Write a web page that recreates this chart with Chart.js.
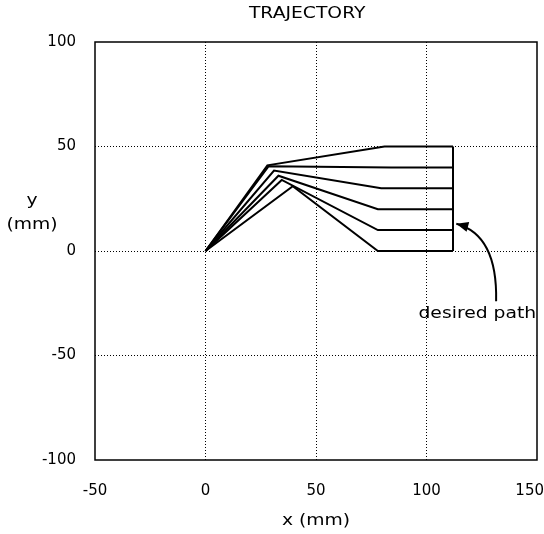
<!DOCTYPE html>
<html>
<head>
<meta charset="utf-8">
<script src="https://cdn.jsdelivr.net/npm/chart.js@4/dist/chart.umd.min.js"></script>
<style>
  html, body { margin: 0; padding: 0; background: #fff; }
</style>
</head>
<body>
<canvas id="trajChart" width="544" height="534"></canvas>
<script>
// trajectories, one array per path (x and y in mm)
const pathX = [
  [0, 28, 81, 112],
  [0, 28.5, 84, 112],
  [0, 31, 79.5, 112],
  [0, 33, 78, 112],
  [0, 34.5, 78, 112],
  [0, 39.5, 78, 112]
];
const pathY = [
  [0, 41, 50, 50],
  [0, 40.5, 40, 40],
  [0, 38.5, 30, 30],
  [0, 36, 20, 20],
  [0, 34, 10, 10],
  [0, 31, 0, 0]
];
const desiredX = [112, 112];
const desiredY = [0, 50];

const xTicks = [-50, 0, 50, 100, 150];
const yTicks = [-100, -50, 0, 50, 100];

const FONT = "'DejaVu Sans', 'Liberation Sans', sans-serif";
const STRETCH = 1.25; // the printed lettering is wider than DejaVu

const toPoints = (xs, ys) => xs.map((x, i) => ({ x: x, y: ys[i] }));

const datasets = pathX.map((xs, i) => ({
  data: toPoints(xs, pathY[i]),
  showLine: true,
  borderColor: '#000',
  borderWidth: 2,
  pointRadius: 0,
  tension: 0
}));
datasets.push({
  data: toPoints(desiredX, desiredY),
  showLine: true,
  borderColor: '#000',
  borderWidth: 2,
  pointRadius: 0
});

function wideText(ctx, text, cx, cy) {
  ctx.save();
  ctx.translate(cx, cy);
  ctx.scale(STRETCH, 1);
  ctx.fillText(text, 0, 0);
  ctx.restore();
}

// frame, titles, y label, "desired path" note with its arrow
const decorations = {
  id: 'decorations',
  afterDraw(chart) {
    const { ctx, chartArea: a, scales: { x, y } } = chart;
    ctx.save();
    ctx.strokeStyle = '#000';
    ctx.lineWidth = 1.5;
    ctx.strokeRect(a.left, a.top, a.right - a.left, a.bottom - a.top);

    ctx.fillStyle = '#000';
    // last x tick label is pushed in so it stays on the page, as in the print
    ctx.font = '15px ' + FONT;
    ctx.textAlign = 'right';
    ctx.textBaseline = 'middle';
    ctx.fillText(String(xTicks[xTicks.length - 1]), chart.width, a.bottom + 31);

    ctx.textAlign = 'center';
    wideText(ctx, 'TRAJECTORY', x.getPixelForValue(46), a.top - 28);
    wideText(ctx, 'x (mm)', x.getPixelForValue(50), a.bottom + 61);
    wideText(ctx, 'y', a.left - 63, y.getPixelForValue(24));
    wideText(ctx, '(mm)', a.left - 63, y.getPixelForValue(12.5));
    wideText(ctx, 'desired path', x.getPixelForValue(123), y.getPixelForValue(-30));

    // curved arrow pointing at the desired path
    const hx = x.getPixelForValue(113.5), hy = y.getPixelForValue(13);
    const c1x = x.getPixelForValue(124), c1y = y.getPixelForValue(10);
    const c2x = x.getPixelForValue(132), c2y = y.getPixelForValue(0);
    const tx = x.getPixelForValue(131.5), ty = y.getPixelForValue(-24);
    ctx.lineWidth = 2;
    ctx.beginPath();
    ctx.moveTo(tx, ty);
    ctx.bezierCurveTo(c2x, c2y, c1x, c1y, hx, hy);
    ctx.stroke();
    const ang = Math.atan2(hy - c1y, hx - c1x);
    const len = 13, half = 0.4;
    ctx.beginPath();
    ctx.moveTo(hx, hy);
    ctx.lineTo(hx - len * Math.cos(ang - half), hy - len * Math.sin(ang - half));
    ctx.lineTo(hx - len * Math.cos(ang + half), hy - len * Math.sin(ang + half));
    ctx.closePath();
    ctx.fill();
    ctx.restore();
  }
};

const edgeGrid = (vals) => (c) =>
  (c.tick && (c.tick.value === vals[0] || c.tick.value === vals[vals.length - 1])) ? 'rgba(0,0,0,0)' : '#000';

new Chart(document.getElementById('trajChart'), {
  type: 'scatter',
  data: { datasets: datasets },
  options: {
    responsive: false,
    animation: false,
    layout: { padding: { top: 42, right: 7, left: 0, bottom: 0 } },
    plugins: {
      legend: { display: false },
      tooltip: { enabled: false }
    },
    scales: {
      x: {
        type: 'linear',
        min: xTicks[0],
        max: xTicks[xTicks.length - 1],
        afterBuildTicks: (s) => { s.ticks = xTicks.map(v => ({ value: v })); },
        afterFit: (s) => { s.height = 74; s.paddingLeft = 0; s.paddingRight = 0; },
        grid: { color: edgeGrid(xTicks), lineWidth: 1, drawTicks: false },
        border: { display: false, dash: [1, 2] },
        ticks: {
          color: '#000', padding: 22, maxRotation: 0,
          font: { family: FONT, size: 15 },
          callback: (v) => (v === xTicks[xTicks.length - 1] ? '' : String(v))
        }
      },
      y: {
        type: 'linear',
        min: yTicks[0],
        max: yTicks[yTicks.length - 1],
        afterBuildTicks: (s) => { s.ticks = yTicks.map(v => ({ value: v })); },
        afterFit: (s) => { s.width = 95; s.paddingTop = 0; s.paddingBottom = 0; },
        grid: { color: edgeGrid(yTicks), lineWidth: 1, drawTicks: false },
        border: { display: false, dash: [1, 2] },
        ticks: { color: '#000', padding: 19, font: { family: FONT, size: 15 } }
      }
    }
  },
  plugins: [decorations]
});
</script>
</body>
</html>
